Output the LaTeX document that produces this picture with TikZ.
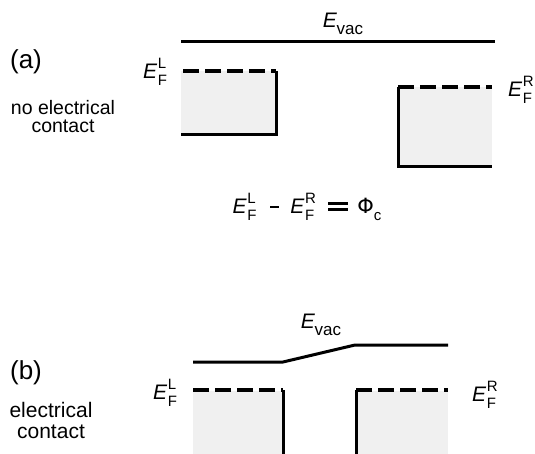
\documentclass[tikz,border=0pt]{standalone}
\usepackage{fontspec}
\setmainfont{Liberation Sans}
\newfontfamily\greekfont{DejaVu Sans}
\newcommand{\EFL}[1]{\textit{E}\kern0.5pt\makebox[0pt][l]{\raisebox{0.5em}{\fontsize{15}{16}\selectfont #1}}\raisebox{-0.33em}{\fontsize{15}{16}\selectfont F}}
\newcommand{\Evac}{\textit{E}\kern-0.5pt\raisebox{-0.3em}{\fontsize{17}{18}\selectfont vac}}
\newcommand{\boldeq}{\raisebox{0.12em}{\tikz[baseline=0pt,x=1pt,y=1pt]{\fill (0,0) rectangle (20,3.2); \fill (0,6.6) rectangle (20,9.8);}}}
\tikzset{
  level/.style={line width=3pt},
  fermi/.style={line width=3.2pt, dash pattern=on 16pt off 6pt},
  band/.style={fill=black!6, draw=none},
  lbl/.style={inner sep=0pt, font=\fontsize{21}{24}\selectfont},
  tag/.style={inner sep=0pt, font=\fontsize{26}{28}\selectfont},
}
\begin{document}
\begin{tikzpicture}[x=1pt,y=-1pt]
\useasboundingbox (0,0) rectangle (535,454);
% ---------- panel (a)
\node[tag] (pa) at (26,62) {(a)};
\node[inner sep=0pt, align=center, font=\fontsize{19.5}{18}\selectfont] (na) at (63,117) {no electrical\\contact};
\coordinate (va1) at (181,42); \coordinate (va2) at (495,42);
\draw[level] (va1) -- (va2);
\node[lbl] (evaca) at (343,24) {\Evac};
% left metal
\coordinate (la1) at (181,71); \coordinate (la2) at (276,71);
\coordinate (la3) at (276,135); \coordinate (la4) at (181,135);
\path[band] (la1) rectangle (la3);
\draw[fermi] (183,71) -- (la2);
\draw[level] (la2) -- (la3) -- (la4);
\node[lbl] (efla) at (155,72) {\EFL{L}};
% right metal
\coordinate (ra1) at (398,87); \coordinate (ra2) at (492,87);
\coordinate (ra3) at (492,167); \coordinate (ra4) at (398,167);
\path[band] (ra1) rectangle (ra3);
\draw[fermi] (ra1) -- (ra2);
\draw[level] (ra1) -- (ra4) -- (ra3);
\node[lbl] (efra) at (520,90) {\EFL{R}};
% formula
\node[lbl] (form) at (307,207) {\EFL{L}\hspace{14pt}\raisebox{0.3em}{\rule{9pt}{1.8pt}}\hspace{11pt}\EFL{R}\hspace{14pt}\boldeq\hspace{9pt}{\greekfont\fontsize{21}{22}\selectfont Φ}\raisebox{-0.3em}{\fontsize{15}{16}\selectfont c}};
% ---------- panel (b)
\node[tag] (pb) at (26,373) {(b)};
\node[inner sep=0pt, align=center, font=\fontsize{21}{21}\selectfont] (nb) at (51,420) {electrical\\contact};
\coordinate (vb1) at (193,362); \coordinate (vb2) at (283,362);
\coordinate (vb3) at (355,345); \coordinate (vb4) at (448,345);
\draw[level, line join=round] (vb1) -- (vb2) -- (vb3) -- (vb4);
\node[lbl] (evacb) at (321,325) {\Evac};
% left metal
\coordinate (lb1) at (193,390); \coordinate (lb2) at (283,390);
\coordinate (lb3) at (283,456);
\path[band] (193,391) rectangle (lb3);
\draw[fermi] (lb1) -- (lb2);
\draw[level] (lb2) -- (lb3);
\node[lbl] (eflb) at (165,393) {\EFL{L}};
% right metal
\coordinate (rb1) at (356,390); \coordinate (rb2) at (448,390);
\coordinate (rb3) at (356,456); \coordinate (rb4) at (448,456);
\path[band] (356,391) rectangle (rb4);
\draw[fermi] (rb1) -- (rb2);
\draw[level] (rb1) -- (rb3);
\node[lbl] (efrb) at (484,395) {\EFL{R}};
\end{tikzpicture}
\end{document}
